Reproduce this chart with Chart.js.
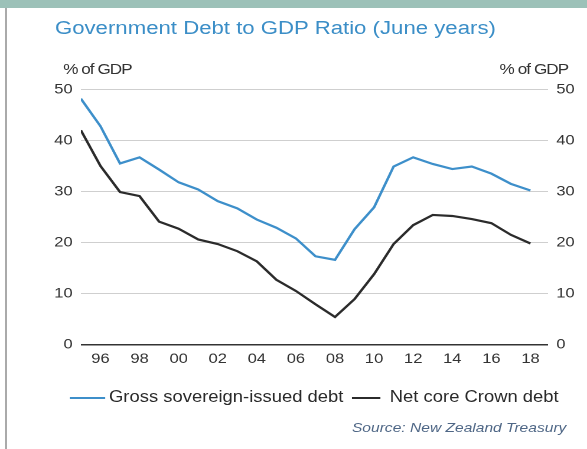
<!DOCTYPE html>
<html>
<head>
<meta charset="utf-8">
<script src="https://cdn.jsdelivr.net/npm/chart.js@4"></script>
<style>
  html, body { margin: 0; padding: 0; background: #fff; }
  body { width: 587px; height: 449px; position: relative; overflow: hidden; font-family: "Liberation Sans", Arial, sans-serif; }
  .topband { position: absolute; left: 0; top: 0; width: 587px; height: 8px; background: #9cc1b8; }
  .edge { position: absolute; left: 5px; top: 8px; width: 2px; height: 441px; background: #aaaaaa; }
  /* the reference is horizontally stretched, so draw narrow and stretch */
  .stage { position: absolute; left: 0; top: 0; width: 497px; height: 449px; transform: scaleX(1.1811); transform-origin: 0 0; }
  #chart { position: absolute; left: 0; top: 0; width: 497px; height: 449px; }
  .txt { position: absolute; line-height: 1; white-space: nowrap; }
  .title { left: 46.5px; top: 19px; font-size: 18.8px; color: #3b8ec7; }
  .unit { top: 61.5px; font-size: 14.5px; letter-spacing: -0.8px; color: #333; }
  .leg { top: 388.8px; font-size: 15.6px; color: #2a2a2a; }
  .swatch { position: absolute; top: 397.3px; height: 2px; }
  .source { left: 298px; top: 421px; font-size: 13.2px; font-style: italic; color: #4f6786; }
</style>
</head>
<body>
<div class="topband"></div>
<div class="edge"></div>
<div class="stage">
  <canvas id="chart" width="497" height="449"></canvas>
  <div class="txt title">Government Debt to GDP Ratio (June years)</div>
  <div class="txt unit" style="left:53.5px">% of GDP</div>
  <div class="txt unit" style="left:423px">% of GDP</div>
  <div class="swatch" style="left:59.3px;width:29.6px;background:#3d8fca"></div>
  <div class="txt leg" id="leg0" style="left:92.3px"></div>
  <div class="swatch" style="left:297.8px;width:24px;background:#2b2b2b"></div>
  <div class="txt leg" id="leg1" style="left:330px"></div>
  <div class="txt source">Source: New Zealand Treasury</div>
</div>
<script>
const YEARS = [1995, 1996, 1997, 1998, 1999, 2000, 2001, 2002, 2003, 2004, 2005, 2006,
  2007, 2008, 2009, 2010, 2011, 2012, 2013, 2014, 2015, 2016, 2017, 2018];
const GROSS = [48.2, 42.8, 35.5, 36.7, 34.3, 31.8, 30.4, 28.1, 26.7, 24.5, 22.9, 20.8,
  17.3, 16.6, 22.6, 26.9, 34.9, 36.7, 35.4, 34.4, 34.9, 33.5, 31.5, 30.2];
const NET = [42.0, 35.0, 29.9, 29.1, 24.1, 22.7, 20.6, 19.7, 18.3, 16.3, 12.7, 10.5,
  7.9, 5.4, 8.9, 13.8, 19.7, 23.4, 25.4, 25.2, 24.6, 23.8, 21.5, 19.8];
const SERIES_NAMES = ['Gross sovereign-issued debt', 'Net core Crown debt'];
const X_TICKS = [1996, 1998, 2000, 2002, 2004, 2006, 2008, 2010, 2012, 2014, 2016, 2018];
const Y_TICKS = [0, 10, 20, 30, 40, 50];

document.getElementById('leg0').textContent = SERIES_NAMES[0];
document.getElementById('leg1').textContent = SERIES_NAMES[1];

Chart.defaults.font.family = '"Liberation Sans", Arial, sans-serif';

const toPoints = (vals) => YEARS.map((y, i) => ({ x: y, y: vals[i] }));
const tickFont = { size: 14 };
const yTicks = (s) => { s.ticks = Y_TICKS.map((v) => ({ value: v })); };

new Chart(document.getElementById('chart'), {
  type: 'line',
  data: {
    datasets: [
      { label: SERIES_NAMES[0], data: toPoints(GROSS), borderColor: '#3d8fca', borderWidth: 2.2, pointRadius: 0, tension: 0, yAxisID: 'y' },
      { label: SERIES_NAMES[1], data: toPoints(NET), borderColor: '#2b2b2b', borderWidth: 2.2, pointRadius: 0, tension: 0, yAxisID: 'y' },
    ],
  },
  options: {
    responsive: false,
    devicePixelRatio: 2,
    animation: false,
    layout: { padding: { top: 89.5, bottom: 74.5, left: 0, right: 0 } },
    plugins: { legend: { display: false }, tooltip: { enabled: false } },
    scales: {
      x: {
        type: 'linear',
        min: 1995,
        max: 2018.9,
        afterBuildTicks: (s) => { s.ticks = X_TICKS.map((v) => ({ value: v })); },
        afterFit: (s) => { s.height = 30; },
        grid: { display: false, drawTicks: false },
        border: { display: false },
        ticks: { padding: 6, color: '#333', font: tickFont, maxRotation: 0, autoSkip: false,
          callback: (v) => String(v).slice(2) },
      },
      y: {
        position: 'left',
        min: 0,
        max: 50,
        afterBuildTicks: yTicks,
        afterFit: (s) => { s.width = 68.5; },
        grid: {
          drawTicks: false,
          color: (c) => (c.tick.value === 0 ? '#333' : '#cfcfcf'),
          lineWidth: (c) => (c.tick.value === 0 ? 1.5 : 1),
        },
        border: { display: false },
        ticks: { padding: 7, color: '#333', font: tickFont },
      },
      y2: {
        position: 'right',
        min: 0,
        max: 50,
        afterBuildTicks: yTicks,
        afterFit: (s) => { s.width = 33; },
        grid: { display: false, drawTicks: false },
        border: { display: false },
        ticks: { padding: 7, color: '#333', font: tickFont },
      },
    },
  },
});
</script>
</body>
</html>
